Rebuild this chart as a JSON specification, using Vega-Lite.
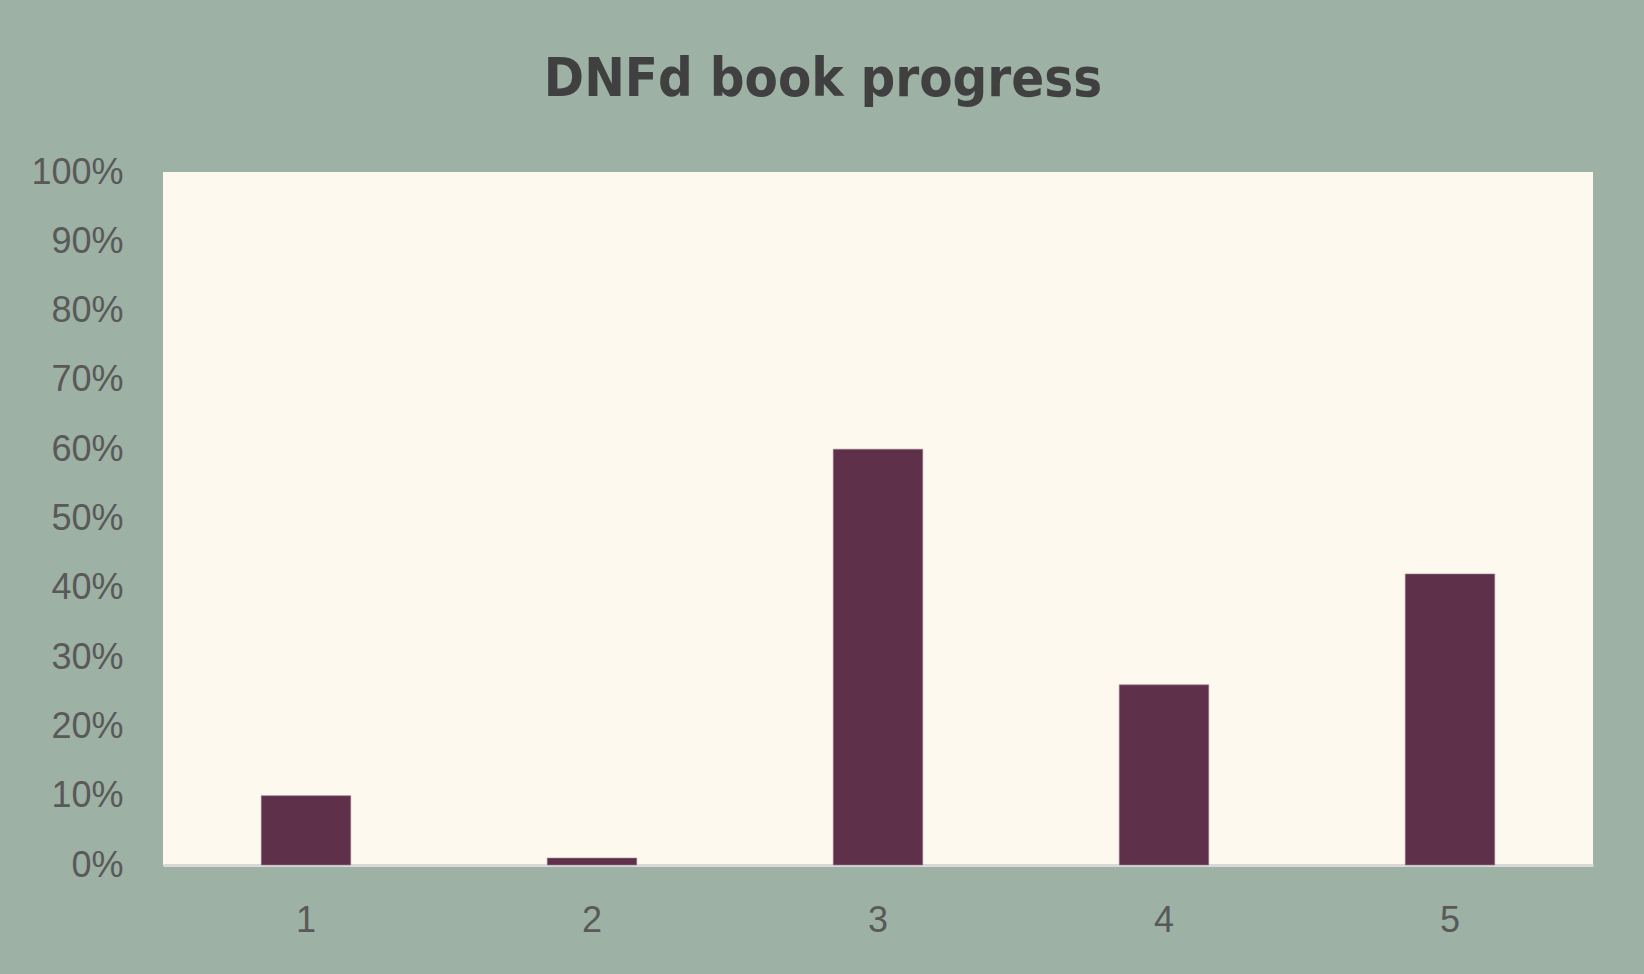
{
  "$schema": "https://vega.github.io/schema/vega-lite/v6.json",
  "autosize": {"type": "none"},
  "width": 1430,
  "height": 693,
  "padding": {"left": 163, "top": 172, "right": 51, "bottom": 109},
  "background": "#9EB1A5",
  "title": {
    "text": "DNFd book progress",
    "anchor": "middle",
    "frame": "group",
    "dx": -55,
    "fontSize": 54,
    "font": "DejaVu Sans Condensed",
    "fontWeight": "bold",
    "color": "#404040",
    "baseline": "alphabetic",
    "offset": 4
  },
  "data": {
    "values": [
      {"book": "1", "progress": 0.10},
      {"book": "2", "progress": 0.01},
      {"book": "3", "progress": 0.60},
      {"book": "4", "progress": 0.26},
      {"book": "5", "progress": 0.42}
    ]
  },
  "mark": {"type": "bar", "color": "#5E3049", "stroke": "#A07E90", "strokeWidth": 0.6},
  "encoding": {
    "x": {
      "field": "book",
      "type": "ordinal",
      "scale": {"paddingInner": 0.687, "paddingOuter": 0.3435},
      "axis": {
        "title": null,
        "labelAngle": 0,
        "labelFont": "Liberation Sans, Arial, sans-serif",
        "labelFontSize": 36,
        "labelColor": "#595959",
        "ticks": false,
        "labelPadding": 38,
        "domainColor": "#D9D9D9",
        "domainWidth": 3,
        "grid": false
      }
    },
    "y": {
      "field": "progress",
      "type": "quantitative",
      "scale": {"domain": [0, 1], "nice": false},
      "axis": {
        "title": null,
        "format": ".0%",
        "values": [0, 0.1, 0.2, 0.3, 0.4, 0.5, 0.6, 0.7, 0.8, 0.9, 1],
        "labelFont": "Liberation Sans, Arial, sans-serif",
        "labelFontSize": 36,
        "labelColor": "#595959",
        "ticks": false,
        "domain": false,
        "grid": false,
        "labelPadding": 40
      }
    }
  },
  "config": {
    "view": {"fill": "#FEF9EE", "stroke": null}
  }
}
